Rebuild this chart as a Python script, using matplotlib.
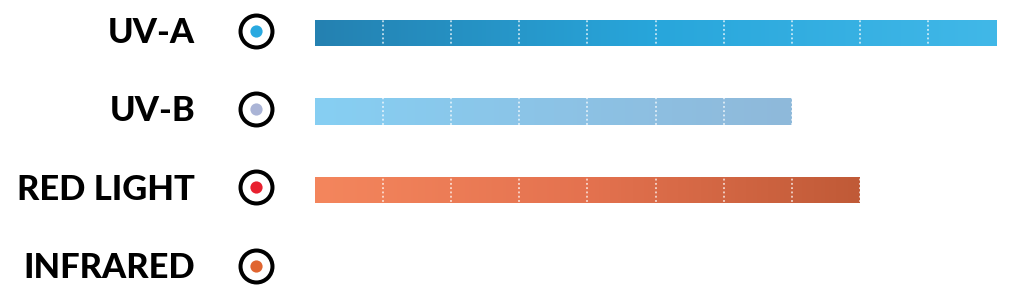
import numpy as np
import matplotlib
matplotlib.use("Agg")
import matplotlib.pyplot as plt
from matplotlib.colors import LinearSegmentedColormap

# --- Data ---
categories = ["UV-A", "UV-B", "RED LIGHT", "INFRARED"]
values = [10, 7, 8, 0]
bar_left_colors = ["#2481b1", "#86cff3", "#f4865d", "#e06530"]
bar_mid_colors = ["#28a6db", "#8cc3e6", "#e4724f", "#e06530"]
bar_right_colors = ["#41b8e8", "#8fb9da", "#c05a37", "#e06530"]
dot_colors = ["#29a9e0", "#aab4d6", "#e8202f", "#e06530"]
x_max = 10

# --- Figure / axes ---
fig = plt.figure(figsize=(10.18, 3.02), dpi=100)
ax = fig.add_axes([315 / 1018, 0, 681 / 1018, 1])
ax.set_xlim(0, x_max)
ax.axis("off")

bar_h = 0.335
bars = ax.barh(range(len(categories)), values, height=bar_h, color="none", zorder=1)

# --- Gradient fill per bar ---
grad = np.linspace(0, 1, 256).reshape(1, -1)
for i, (bar, v) in enumerate(zip(bars, values)):
    if v <= 0:
        continue
    cmap = LinearSegmentedColormap.from_list(
        f"g{i}", [bar_left_colors[i], bar_mid_colors[i], bar_right_colors[i]])
    img = ax.imshow(grad, cmap=cmap, aspect="auto", interpolation="bicubic",
                    extent=(0, v, i + bar_h / 2, i - bar_h / 2), zorder=1)
    img.set_clip_path(bar)

# --- Dotted white dividers ---
ax.vlines(np.arange(1, x_max), -0.5, 3.5, colors="white", linestyles=(0, (1.2, 1.6)),
          linewidth=1.1, alpha=0.85, zorder=2)
ax.set_ylim(3.43, -0.42)

# --- Labels and ring markers ---
trans = ax.get_yaxis_transform()
for i, name in enumerate(categories):
    ax.text(-0.176, i, name, transform=trans, ha="right", va="center",
            fontsize=24.8, fontweight="black", family="Lato", color="black")
    ax.plot([-0.0866], [i - 0.03], marker="o", markersize=23, markerfacecolor="white",
            markeredgecolor="black", markeredgewidth=2.9, transform=trans, clip_on=False)
    ax.plot([-0.0866], [i - 0.03], marker="o", markersize=8.8, markerfacecolor=dot_colors[i],
            markeredgewidth=0, transform=trans, clip_on=False)

fig.savefig("out.png", dpi=100, facecolor="white")
